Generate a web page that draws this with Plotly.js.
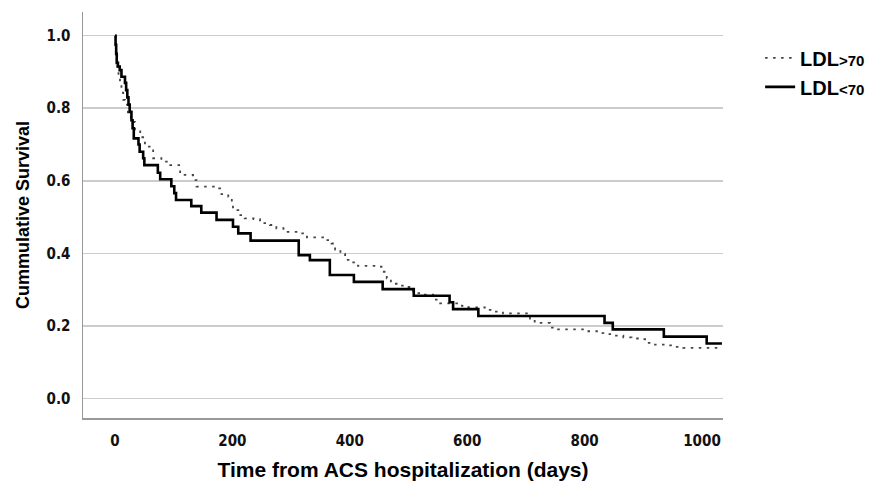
<!DOCTYPE html>
<html>
<head>
<meta charset="utf-8">
<script src="https://cdn.plot.ly/plotly-3.0.1.min.js"></script>
<style>html,body{margin:0;padding:0;background:#fff;}#chart{width:875px;height:486px;}</style>
</head>
<body>
<div id="chart"></div>
<script>
// LDL < 70 (solid) : time in days, cumulative survival
const solidDays = [0,1,2,3,5,8,11,17,19,21,23,25,28,30,32,40,42,48,50,73,77,96,101,104,130,147,173,201,210,231,313,332,366,407,456,509,570,576,619,834,848,935,1008,1034];
const solidSurv = [1.000,0.975,0.950,0.925,0.915,0.905,0.887,0.870,0.850,0.830,0.810,0.790,0.767,0.745,0.717,0.700,0.680,0.662,0.643,0.622,0.604,0.585,0.566,0.547,0.530,0.512,0.492,0.473,0.455,0.435,0.395,0.381,0.340,0.321,0.301,0.283,0.265,0.246,0.227,0.208,0.190,0.170,0.151,0.151];

// LDL > 70 (dotted)
const dottedDays = [0,1,2,3,4,6,8.5,11,14,17,22,27,34,43,51,65,79,94,111,133,139,170,179,193,199,201,210,221,236,247,264,275,287,315,327,358,369,375,384,392,403,414,446,454,463,470,485,497,508,522,542,554,591,602,630,644,661,707,715,741,755,804,821,832,849,866,880,894,903,920,937,957,968,1035];
const dottedSurv = [1.0,0.97,0.945,0.925,0.905,0.885,0.864,0.843,0.823,0.810,0.785,0.762,0.740,0.720,0.694,0.662,0.653,0.643,0.616,0.602,0.584,0.579,0.563,0.556,0.538,0.519,0.505,0.496,0.494,0.483,0.478,0.469,0.459,0.455,0.444,0.436,0.427,0.410,0.398,0.382,0.375,0.365,0.363,0.349,0.331,0.316,0.311,0.307,0.290,0.286,0.272,0.262,0.255,0.251,0.244,0.239,0.234,0.220,0.208,0.195,0.190,0.185,0.180,0.177,0.173,0.168,0.165,0.163,0.153,0.148,0.146,0.142,0.139,0.139];

const xTicks = [0,200,400,600,800,1000];
const yTicks = [0.0,0.2,0.4,0.6,0.8,1.0];
const yTickText = ['0.0','0.2','0.4','0.6','0.8','1.0'];

const tickFont = {family:'"Liberation Sans Narrow","Arial Narrow","DejaVu Sans Condensed",sans-serif', size:15, color:'#111', weight:700};

const traces = [
  {x: dottedDays, y: dottedSurv, type:'scatter', mode:'lines', line:{shape:'hv', color:'#444', width:1.8, dash:'2.5px,5.5px'},
   name:"<b>LDL</b><b><span style='font-size:15px'>&gt;70</span></b>", hoverinfo:'skip'},
  {x: solidDays, y: solidSurv, type:'scatter', mode:'lines', line:{shape:'hv', color:'#000', width:2.6},
   name:"<b>LDL</b><b><span style='font-size:15px'>&lt;70</span></b>", hoverinfo:'skip'}
];

const layout = {
  width:875, height:486,
  margin:{l:83, r:152, t:12, b:68, autoexpand:false},
  paper_bgcolor:'#fff', plot_bgcolor:'#fff',
  showlegend:true,
  legend:{x:1.058, y:0.935, xanchor:'left', yanchor:'top', font:{family:'"Liberation Sans",Arial,sans-serif', size:20, color:'#000'}, tracegroupgap:0, bgcolor:'rgba(0,0,0,0)'},
  xaxis:{range:[-54.5,1035.8], tickvals:xTicks, ticktext:xTicks.map(String), showgrid:false, zeroline:false,
         showline:true, linecolor:'#999', linewidth:1.5, ticks:'', ticklabelstandoff:8, tickfont:tickFont,
         title:{text:'<b>Time from ACS hospitalization (days)</b>', font:{family:'"Liberation Sans",Arial,sans-serif', size:21, color:'#000'}, standoff:14}},
  yaxis:{range:[-0.0543,1.0654], tickvals:yTicks, ticktext:yTickText, showgrid:true, gridcolor:'#cccccc', gridwidth:1.5, zeroline:false,
         showline:true, linecolor:'#999', linewidth:1.5, ticks:'', ticklabelstandoff:8, tickfont:tickFont,
         title:{text:'<b>Cummulative Survival</b>', font:{family:'"Liberation Sans Narrow","Arial Narrow",sans-serif', size:18, color:'#000'}, standoff:12}}
};

Plotly.newPlot('chart', traces, layout, {staticPlot:true, displayModeBar:false});
</script>
</body>
</html>
